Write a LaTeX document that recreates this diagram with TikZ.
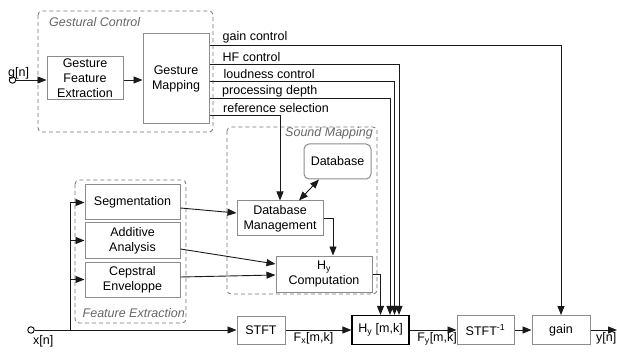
\documentclass[tikz,border=0pt]{standalone}
\usepackage{fontspec}
\setmainfont{Liberation Sans}
\usetikzlibrary{arrows.meta}

\begin{document}
\begin{tikzpicture}[x=1pt, y=-1pt,
		every node/.style={font=\fontsize{12.5}{15}\selectfont},
		block/.style={draw=black!45, line width=1pt, fill=white, align=center, inner sep=1pt},
		group/.style={draw=black!55, dash pattern=on 4pt off 3pt, rounded corners=4pt, line width=0.8pt},
		grouplabel/.style={text=black!60, font=\fontsize{12.5}{15}\selectfont\itshape, inner sep=0pt},
		wire/.style={line width=0.9pt, draw=black!90},
		sig/.style={wire, -{Triangle[length=9pt,width=7pt]}},
		port/.style={circle, draw, fill=white, inner sep=0pt, minimum size=6.5pt, line width=0.9pt}]
	\useasboundingbox (0,0) rectangle (617,352);

	% groups
	\draw[group] (38,11) rectangle (213,132);
	\node[grouplabel, anchor=base west] (lgest) at (49,27) {Gestural Control};
	\draw[group] (227,127) rectangle (377,294);
	\node[grouplabel, anchor=base east] (lsound) at (373,137) {Sound Mapping};
	\draw[group] (75,180) rectangle (186,323);
	\node[grouplabel, anchor=base east] (lfeat) at (185,317) {Feature Extraction};

	% blocks
	\node[block, minimum width=76pt, minimum height=43pt] (gfe) at (85,78) {Gesture\\Feature\\Extraction};
	\node[block, minimum width=66pt, minimum height=90pt] (gmap) at (176,79) {Gesture\\Mapping};
	\node[block, rounded corners=5pt, minimum width=67pt, minimum height=35pt] (db) at (337.5,161.5) {Database};
	\node[block, minimum width=86pt, minimum height=35pt] (dbm) at (280,218.5) {Database\\Management};
	\node[block, minimum width=96pt, minimum height=36pt] (hyc) at (324,274) {H\textsubscript{y}\\Computation};
	\node[block, minimum width=95pt, minimum height=35pt] (seg) at (132.5,202.5) {Segmentation};
	\node[block, minimum width=95pt, minimum height=35pt] (addan) at (132.5,240.5) {Additive\\Analysis};
	\node[block, minimum width=95pt, minimum height=35pt] (cep) at (132.5,279.5) {Cepstral\\Enveloppe};
	\node[block, minimum width=48pt, minimum height=28pt] (stft) at (261,330) {STFT};
	\node[block, draw=black, line width=1.2pt, minimum width=57pt, minimum height=29pt] (hymk) at (380.5,330) {H\textsubscript{y} [m,k]};
	\node[block, minimum width=57pt, minimum height=29pt] (istft) at (485.5,330) {STFT\textsuperscript{-1}};
	\node[block, minimum width=58pt, minimum height=29pt] (gainbox) at (561,330) {gain};

	% inputs
	\node[port] (gin) at (12.5,80) {};
	\node[anchor=base west, inner sep=0pt] (lgin) at (8,77) {g[n]};
	\node[port] (xin) at (31,330) {};
	\node[anchor=north west, inner sep=1pt] (lxin) at (32,334) {x[n]};
	\coordinate (xsplit) at (70,330);
	\coordinate (yout) at (617,330);

	% gesture path
	\draw[sig] (gin) -- (gin -| gfe.west);
	\draw[sig] (gfe.east |- gin) -- (gmap.west |- gin);

	\coordinate (rgain) at (0,45);
	\coordinate (rhf) at (0,64);
	\coordinate (rloud) at (0,81);
	\coordinate (rproc) at (0,98);
	\coordinate (rref) at (0,115);
	\draw[sig] (gmap.east |- rgain) -| (gainbox.north);
	\draw[sig] (gmap.east |- rhf) -| ([xshift=18.5pt]hymk.north);
	\draw[sig] (gmap.east |- rloud) -| ([xshift=14pt]hymk.north);
	\draw[sig] (gmap.east |- rproc) -| ([xshift=9.5pt]hymk.north);
	\draw[sig] (gmap.east |- rref) -| (dbm.north);
	\node[anchor=base west, inner sep=0pt] (lgain) at (222.5,40.5) {gain control};
	\node[anchor=base west, inner sep=0pt] (lhf) at (222.5,61.5) {HF control};
	\node[anchor=base west, inner sep=0pt] (lloud) at (223.5,78.5) {loudness control};
	\node[anchor=base west, inner sep=0pt] (lproc) at (222,94.5) {processing depth};
	\node[anchor=base west, inner sep=0pt] (lref) at (223,112.5) {reference selection};

	% sound mapping
	\draw[wire, {Triangle[length=9pt,width=7pt]}-{Triangle[length=9pt,width=7pt]}] ([xshift=19pt]dbm.north) -- ([xshift=-18.5pt]db.south);
	\draw[sig] (dbm.east) -| ([xshift=9pt]hyc.north);
	\draw[sig] (hyc.east) -| (hymk.north);

	% features
	\draw[sig] (xsplit) |- (seg.west);
	\draw[sig] (xsplit) |- (addan.west);
	\draw[sig] (xsplit) |- (cep.west);
	\draw[sig] ([yshift=-5.5pt]seg.east) -- ([yshift=5.5pt]dbm.west);
	\draw[sig] ([yshift=-8.5pt]addan.east) -- ([yshift=10pt]hyc.west);
	\draw[sig] ([yshift=2.5pt]cep.east) -- ([yshift=-1pt]hyc.west);

	% signal path
	\draw[sig] (xin) -- (stft);
	\draw[sig] (stft) -- node[below, xshift=-5pt, inner sep=2pt] (lfx) {F\textsubscript{x}[m,k]} (hymk);
	\draw[sig] (hymk) -- node[below, xshift=4pt, inner sep=2pt] (lfy) {F\textsubscript{y}[m,k]} (istft);
	\draw[sig] (istft) -- (gainbox);
	\draw[sig] (gainbox) -- node[below, xshift=2.5pt, inner sep=2pt] (lyout) {y[n]} (yout);
\end{tikzpicture}
\end{document}
